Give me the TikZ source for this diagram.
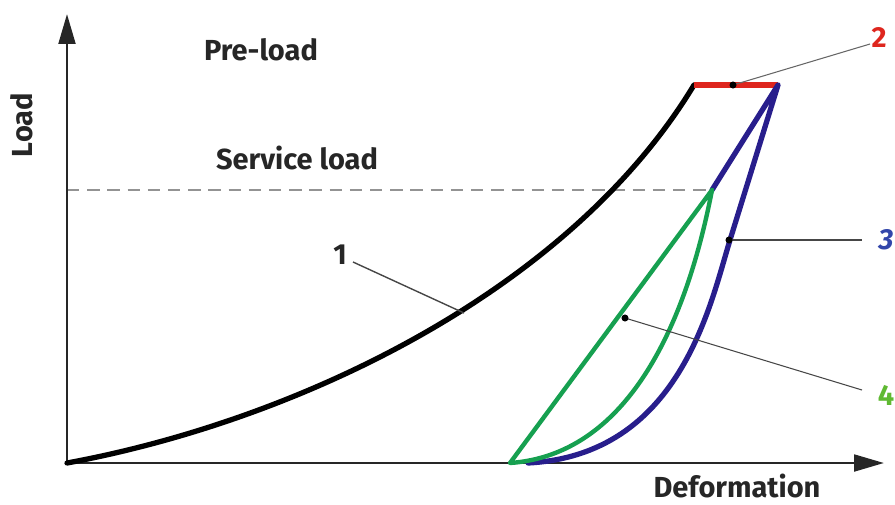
\documentclass[tikz,border=0pt]{standalone}
\usepackage{fontspec}
\setmainfont{Fira Sans}
\usetikzlibrary{arrows.meta}
\definecolor{cred}{RGB}{222,38,30}
\definecolor{cblue}{RGB}{40,30,140}
\definecolor{cgreen}{RGB}{22,160,80}
\definecolor{lblue}{RGB}{50,70,170}
\definecolor{lgreen}{RGB}{95,185,50}
\definecolor{leadgray}{RGB}{70,70,70}
\begin{document}
\begin{tikzpicture}[x=0.02cm,y=-0.02cm,
  lbl/.style={font=\fontsize{16.5}{19}\selectfont\bfseries, inner sep=0pt, text=black!85},
  axis/.style={line width=1.6pt, black!85, -{Triangle[length=17pt,width=9.5pt]}},
  curveblack/.style={line width=3pt, black, line cap=round},
  curvered/.style={line width=3.6pt, cred},
  curveblue/.style={line width=3pt, cblue, line join=round, line cap=round},
  curvegreen/.style={line width=2.5pt, cgreen, line join=round, line cap=round},
  leader/.style={line width=0.8pt, leadgray},
  leaderdot/.style={circle, fill=black, inner sep=0pt, minimum size=4pt},
  svc/.style={line width=0.9pt, gray!85, dash pattern=on 7pt off 4.5pt}]
\useasboundingbox (0,0) rectangle (895,504);
% key points
\coordinate (O) at (67,463);
\coordinate (ytip) at (67,14);
\coordinate (xtip) at (884,463);
\coordinate (A) at (694,85);
\coordinate (B) at (778,85);
\coordinate (S) at (712,190);
\coordinate (D) at (67,190);
\coordinate (G0) at (510,463);
\coordinate (Bk) at (730,240);
\coordinate (B0) at (528,463);
% service load line
\draw[svc] (D) -- (S);
% axes
\draw[axis] (O) -- (ytip);
\draw[axis] (O) -- (xtip);
% curve 1 (black)
\draw[curveblack] (O) .. controls (300,420) and (570,290) .. (A);
% curve 2 (red)
\draw[curvered] (A) -- (B);
% curve 3 (blue)
\draw[curveblue] (S) -- (B) -- (Bk) .. controls (710,305) and (680,455) .. (B0);
% curve 4 (green)
\draw[curvegreen] (S) -- (G0) .. controls (625,455) and (685,330) .. (S);
% labels
\node[lbl] (pre) at (261,50) {Pre-load};
\node[lbl] (serv) at (297,158) {Service load};
\node[lbl, rotate=90] (load) at (22,125) {Load};
\node[lbl] (def) at (737,486) {Deformation};
\node[lbl] (n1) at (340,255) {1};
\node[lbl, text=cred] (n2) at (879,37) {2};
\node[lbl, text=lblue, font=\fontsize{16.5}{19}\selectfont\bfseries\itshape] (n3) at (886,240) {3};
\node[lbl, text=lgreen] (n4) at (886,395) {4};
% leaders
\coordinate (p1) at (464,313); \coordinate (e1) at (353,262);
\coordinate (p2) at (733,85);  \coordinate (e2) at (870,44);
\coordinate (p3) at (729,240); \coordinate (e3) at (862,240);
\coordinate (p4) at (625,318); \coordinate (e4) at (862,390);
\draw[leader] (e1) -- (p1);
\draw[leader, line width=0.6pt, gray!80!black] (p2) -- (e2);
\draw[leader, line width=1pt] (p3) -- (e3);
\draw[leader, line width=0.6pt] (p4) -- (e4);
\node[leaderdot] (d2) at (p2) {};
\node[leaderdot] (d3) at (p3) {};
\node[leaderdot] (d4) at (p4) {};
\end{tikzpicture}
\end{document}
